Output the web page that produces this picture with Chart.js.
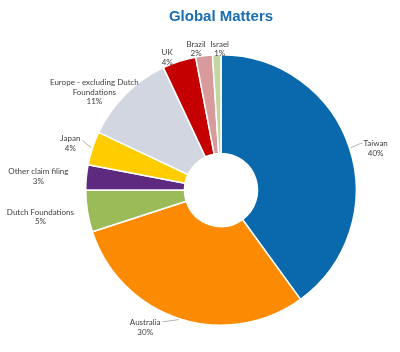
<!DOCTYPE html>
<html>
<head>
<meta charset="utf-8">
<script src="https://cdn.jsdelivr.net/npm/chart.js@4"></script>
<style>
  html, body { margin: 0; padding: 0; background: #fff; }
  #wrap { width: 400px; height: 352px; }
</style>
</head>
<body>
<div id="wrap"><canvas id="stage" width="400" height="352"></canvas></div>
<script>
// data
const categories = ['Taiwan', 'Australia', 'Dutch Foundations', 'Other claim filing', 'Japan',
  'Europe - excluding Dutch Foundations', 'UK', 'Brazil', 'Israel'];
const shares = [40, 30, 5, 3, 4, 11, 4, 2, 1];
// label text lines (as printed on the chart)
const labelLines = [
  ['Taiwan', '40%'],
  ['Australia', '30%'],
  ['Dutch Foundations', '5%'],
  ['Other claim filing', '3%'],
  ['Japan', '4%'],
  ['Europe - excluding Dutch', 'Foundations', '11%'],
  ['UK', '4%'],
  ['Brazil', '2%'],
  ['Israel', '1%']
];

const colors = ['#0a69ad', '#fd8a03', '#9bbb59', '#5e2a80', '#ffcc00', '#d2d6e1', '#c50000', '#d99a9b', '#c3d69f'];
// where each label sits, relative to the outer edge at the slice middle
const labelShift = [[26, 0], [-34, 9], [-47, 6], [-48, -1], [-22, -5], [-31, -2], [-12, -4], [-8, -7], [3, -6]];
const leader = [true, true, false, false, true, false, false, false, false];

const outLabels = {
  id: 'outLabels',
  afterDatasetsDraw(chart) {
    const ctx = chart.ctx;
    const meta = chart.getDatasetMeta(0);
    ctx.save();
    ctx.font = '8px Lato, "Liberation Sans", sans-serif';
    ctx.fillStyle = '#404040';
    ctx.textAlign = 'center';
    ctx.textBaseline = 'middle';
    meta.data.forEach((arc, i) => {
      const p = arc.getProps(['x', 'y', 'startAngle', 'endAngle', 'outerRadius'], true);
      const mid = (p.startAngle + p.endAngle) / 2;
      const ex = p.x + Math.cos(mid) * p.outerRadius;
      const ey = p.y + Math.sin(mid) * p.outerRadius;
      const lx = ex + labelShift[i][0];
      const ly = ey + labelShift[i][1];
      const lines = labelLines[i];
      const lh = 9.5;
      const top = ly - (lines.length - 1) * lh / 2;
      if (leader[i]) {
        ctx.strokeStyle = '#a0a0a0';
        ctx.lineWidth = 0.8;
        ctx.beginPath();
        const w = ctx.measureText(lines[0]).width;
        const sx = ex + Math.cos(mid) * 1;
        const sy = ey + Math.sin(mid) * 1;
        let tx, ty;
        if (i === 0) { tx = lx - w / 2 - 3; ty = top; }
        else if (i === 1) { tx = lx + w / 2 + 2; ty = top - 1; }
        else { tx = lx + w / 2 + 2; ty = top + 2; }
        ctx.moveTo(sx, sy);
        ctx.lineTo(tx, ty);
        if (i === 0) ctx.lineTo(tx + 2, ty);
        ctx.stroke();
      }
      lines.forEach((t, k) => ctx.fillText(t, lx, top + k * lh));
    });
    ctx.restore();
  }
};

new Chart(document.getElementById('stage'), {
  type: 'doughnut',
  data: {
    labels: categories,
    datasets: [{
      data: shares,
      backgroundColor: colors,
      borderColor: '#ffffff',
      borderWidth: 1.5
    }]
  },
  options: {
    responsive: false,
    animation: false,
    cutout: '27%',
    layout: { padding: { top: 0, left: 85, right: 43, bottom: 26 } },
    plugins: {
      legend: { display: false },
      tooltip: { enabled: false },
      title: {
        display: true,
        text: 'Global Matters',
        color: '#1a6db3',
        font: { family: '"Liberation Sans", Arial, sans-serif', size: 15, weight: 'bold' },
        padding: { top: 8, bottom: 28 }
      }
    }
  },
  plugins: [outLabels]
});
</script>
</body>
</html>
